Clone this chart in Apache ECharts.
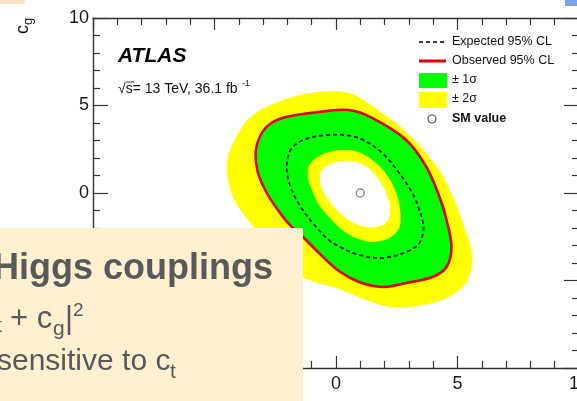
<!DOCTYPE html>
<html>
<head>
<meta charset="utf-8">
<script src="https://cdn.jsdelivr.net/npm/echarts@6/dist/echarts.min.js"></script>
<style>
  html, body { margin: 0; padding: 0; background: #fff; }
  #main { width: 577px; height: 401px; }
</style>
</head>
<body>
<div id="main"></div>
<script>
// contour points, as [c_t, c_g]
const yellowOuter = [
  [-0.70, 5.77], [0.54, 5.71], [1.49, 4.97], [2.89, 3.49], [4.13, 1.54], [4.79, -0.17],
  [5.29, -2.0], [5.58, -3.37], [5.54, -4.51], [5.17, -5.43], [4.26, -6.17], [3.02, -6.51],
  [2.19, -6.51], [1.24, -6.11], [0.12, -5.49], [-1.40, -4.8], [-2.15, -3.94], [-2.77, -2.97],
  [-3.39, -1.94], [-3.93, -0.97], [-4.26, -0.17], [-4.46, 0.86], [-4.46, 2.0], [-4.13, 3.14],
  [-3.47, 4.4], [-2.07, 5.37]
]
const observed = [
  [-0.70, 4.63], [0.54, 4.74], [1.49, 4.29], [2.89, 3.03], [3.72, 1.49], [4.26, -0.23],
  [4.55, -1.54], [4.75, -3.09], [4.55, -4.23], [3.97, -4.8], [2.89, -5.14], [1.90, -5.37],
  [0.95, -5.09], [0.12, -4.46], [-0.70, -3.43], [-1.40, -2.46], [-1.94, -1.77], [-2.36, -1.03],
  [-2.85, 0], [-3.22, 1.2], [-3.31, 2.34], [-3.14, 3.2], [-2.77, 3.89], [-2.07, 4.34]
]
const expected = [
  [-0.41, 3.31], [0.33, 3.31], [1.03, 3.09], [1.90, 2.29], [2.60, 1.14], [3.14, 0],
  [3.43, -0.97], [3.60, -1.94], [3.43, -2.86], [2.89, -3.37], [1.90, -3.71], [0.95, -3.54],
  [0.25, -3.14], [-0.29, -2.69], [-0.99, -1.66], [-1.45, -0.8], [-1.82, 0.17], [-2.02, 1.2],
  [-1.98, 2.06], [-1.78, 2.63], [-1.24, 3.09]
]
const greenInner = [
  [0.33, 2.46], [1.03, 2.29], [1.86, 1.43], [2.40, 0.29], [2.64, -0.97], [2.60, -2.0],
  [2.19, -2.57], [1.49, -2.8], [0.83, -2.57], [0.25, -2.11], [-0.29, -1.37], [-0.70, -0.69],
  [-0.99, 0.17], [-1.16, 0.91], [-1.12, 1.54], [-0.83, 2.0], [-0.29, 2.34]
]
const yellowInner = [
  [0.54, 1.83], [1.16, 1.6], [1.69, 0.91], [2.07, 0], [2.23, -0.86], [2.11, -1.6],
  [1.65, -1.94], [1.03, -1.89], [0.41, -1.43], [-0.08, -0.8], [-0.45, -0.11], [-0.66, 0.63],
  [-0.58, 1.31], [-0.12, 1.71]
]
const smPoint = [[1, 0]]
const axisMin = -10
const axisMax = 10

var myChart = echarts.init(document.getElementById('main'))

// one closed contour drawn as a smooth polygon on the grid
function contour(points, fill, stroke, width, dash) {
  return {
    type: 'custom',
    coordinateSystem: 'cartesian2d',
    silent: true,
    data: [0],
    renderItem: function (params, api) {
      return {
        type: 'polygon',
        shape: { points: points.map(p => api.coord(p)), smooth: 0.35 },
        style: {
          fill: fill || 'none',
          stroke: stroke || 'none',
          lineWidth: width || 0,
          lineDash: dash || null
        }
      }
    }
  }
}

const labelFont = { fontFamily: 'Liberation Sans', fontSize: 18, color: '#1a1a1a' }
const frame = { show: true, onZero: false, lineStyle: { color: '#333', width: 1.4 } }

function xAxis(pos, showLabel) {
  return {
    type: 'value', position: pos, min: axisMin, max: axisMax, interval: 5,
    axisLine: frame,
    axisTick: { show: true, inside: true, length: 12, lineStyle: { color: '#333', width: 1.2 } },
    minorTick: { show: true, splitNumber: 5, length: 7, lineStyle: { color: '#333', width: 1.2 } },
    splitLine: { show: false },
    axisLabel: Object.assign({ show: showLabel, margin: 7, showMaxLabel: true }, labelFont)
  }
}
function yAxis(pos, showLabel) {
  return {
    type: 'value', position: pos, min: axisMin, max: axisMax, interval: 5,
    axisLine: frame,
    axisTick: { show: true, inside: true, length: 15, lineStyle: { color: '#333', width: 1.2 } },
    minorTick: { show: true, splitNumber: 5, length: 7, lineStyle: { color: '#333', width: 1.2 } },
    splitLine: { show: false },
    axisLabel: Object.assign({ show: showLabel, margin: 4, showMaxLabel: true }, labelFont)
  }
}

const txt = (x, y, text, size, extra) => ({
  type: 'text', x: x, y: y, z: 100, silent: true,
  style: Object.assign({
    text: text, fontFamily: 'Liberation Sans', fontSize: size, fill: '#111',
    verticalAlign: 'middle', align: 'left'
  }, extra || {})
})
const boxText = (x, y, text, size, extra) =>
  txt(x, y, text, size, Object.assign({ fill: '#595959' }, extra || {}))

var option = {
  animation: false,
  backgroundColor: '#fff',
  grid: { left: 93, top: 18, width: 486, height: 350, outerBoundsMode: 'none', containLabel: false },
  xAxis: [xAxis('bottom', true), xAxis('top', false)],
  yAxis: [yAxis('left', true), yAxis('right', false)],
  series: [
    contour(yellowOuter, '#ffff00'),
    contour(observed, '#00ff00'),
    contour(greenInner, '#ffff00'),
    contour(yellowInner, '#ffffff'),
    contour(expected, null, '#111', 1.8, [4, 3]),
    contour(observed, null, '#e00000', 2.6),
    {
      type: 'scatter', data: smPoint, symbol: 'circle', symbolSize: 8, silent: true,
      itemStyle: { color: '#fff', borderColor: '#666', borderWidth: 1.3 }
    }
  ],
  graphic: [
    // slide pieces around the plot
    { type: 'rect', z: 100, shape: { x: 0, y: 0, width: 25, height: 4 }, style: { fill: '#fce4c6' } },
    { type: 'rect', z: 100, shape: { x: 565, y: 0, width: 12, height: 6 }, style: { fill: '#7aa6e8' } },
    // axis title c_g
    {
      type: 'group', x: 23, y: 34, rotation: Math.PI / 2, z: 100,
      children: [
        txt(0, 0, 'c', 18, { align: 'left' }),
        txt(9, 5, 'g', 13, { align: 'left' })
      ]
    },
    // ATLAS label
    txt(118, 56, 'ATLAS', 21, { fontWeight: 'bold', fontStyle: 'italic', fill: '#000' }),
    txt(118, 89, '√s= 13 TeV, 36.1 fb', 14),
    txt(242, 84, '-1', 9),
    { type: 'line', z: 100, shape: { x1: 126, y1: 82, x2: 134, y2: 82 }, style: { stroke: '#111', lineWidth: 0.8 } },
    // legend
    { type: 'line', z: 100, shape: { x1: 419, y1: 42, x2: 444, y2: 42 }, style: { stroke: '#000', lineWidth: 1.6, lineDash: [4, 3] } },
    txt(452, 42, 'Expected 95% CL', 12.5),
    { type: 'line', z: 100, shape: { x1: 419, y1: 61, x2: 446, y2: 61 }, style: { stroke: '#e00000', lineWidth: 3 } },
    txt(452, 61, 'Observed 95% CL', 12.5),
    { type: 'rect', z: 100, shape: { x: 419, y: 73, width: 28, height: 15 }, style: { fill: '#00ff00' } },
    txt(452, 80, '± 1σ', 12.5),
    { type: 'rect', z: 100, shape: { x: 419, y: 92, width: 28, height: 16 }, style: { fill: '#ffff00' } },
    txt(452, 99, '± 2σ', 12.5),
    { type: 'circle', z: 100, shape: { cx: 432, cy: 119, r: 4 }, style: { fill: '#fff', stroke: '#555', lineWidth: 1.2 } },
    txt(452, 119, 'SM value', 12.5, { fontWeight: 'bold' }),
    // slide text box on top of the plot
    { type: 'rect', z: 100, shape: { x: 0, y: 228, width: 303, height: 173 }, style: { fill: '#fff0d2' } },
    boxText(-7, 269.5, 'Higgs couplings', 36, { fontWeight: 'bold' }),
    boxText(-4, 326, 't', 21),
    boxText(10, 319, '+ c', 31),
    boxText(53, 329, 'g', 21),
    boxText(65, 319, '|', 31),
    boxText(73, 311, '2', 19),
    boxText(-3, 362, 'sensitive to c', 30),
    boxText(170, 372, 't', 21)
  ]
}

myChart.setOption(option)
</script>
</body>
</html>
